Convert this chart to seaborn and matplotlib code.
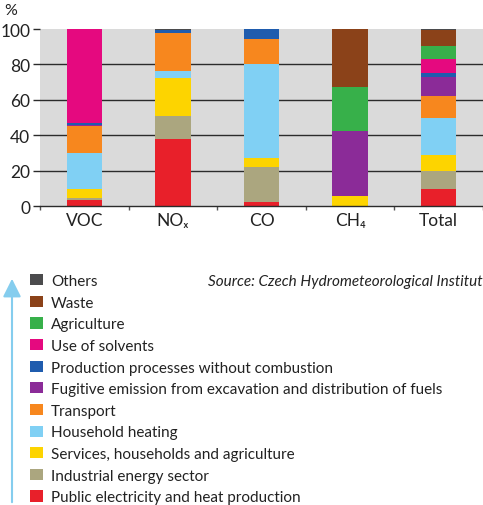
import matplotlib
matplotlib.use("Agg")
import matplotlib.pyplot as plt
from matplotlib.patches import Patch, FancyArrowPatch
import seaborn as sns
import numpy as np

# ---- data (percent shares) ----
categories = ["VOC", "NOₓ", "CO", "CH₄", "Total"]

sectors = [
    "Public electricity and heat production",
    "Industrial energy sector",
    "Services, households and agriculture",
    "Household heating",
    "Transport",
    "Fugitive emission from excavation and distribution of fuels",
    "Production processes without combustion",
    "Use of solvents",
    "Agriculture",
    "Waste",
    "Others",
]

public_electricity = [3.8, 38.0, 2.3, 0.0, 10.0]
industrial_energy = [1.0, 12.8, 19.7, 0.0, 10.1]
services = [5.0, 21.4, 5.1, 5.6, 8.9]
household_heating = [20.1, 4.3, 52.9, 0.0, 20.6]
transport = [15.2, 21.2, 14.6, 0.0, 12.8]
fugitive = [1.0, 0.0, 0.0, 37.1, 10.7]
production = [1.1, 1.5, 5.3, 0.0, 1.9]
solvents = [52.8, 0.0, 0.0, 0.0, 8.1]
agriculture = [0.0, 0.0, 0.0, 24.8, 7.3]
waste = [0.0, 0.0, 0.0, 32.5, 9.0]
others = [0.0, 0.8, 0.1, 0.0, 0.6]

colors = [
    "#e8202a", "#aba67f", "#fdd400", "#80d0f4", "#f7871e", "#8b2b98",
    "#1f5cae", "#e5097f", "#37b04a", "#8b4219", "#4b4b4d",
]

layers = [public_electricity, industrial_energy, services, household_heating,
          transport, fugitive, production, solvents, agriculture, waste, others]

sns.set_theme(style="white")
plt.rcParams['font.family'] = ['Lato', 'DejaVu Sans']

W, H = 483, 506
fig = plt.figure(figsize=(W / 100, H / 100), dpi=100)
ax = fig.add_axes([40 / W, (H - 207.3) / H, (W - 40) / W, 177.3 / H])
ax.set_facecolor("#dadada")

cum = np.cumsum(np.array(layers), axis=0)
for i in reversed(range(len(layers))):
    sns.barplot(x=categories, y=cum[i], color=colors[i], width=0.4,
                saturation=1, linewidth=0, errorbar=None, ax=ax)

ax.set_xlim(-0.5, 4.422)
ax.set_ylim(0, 100)
ax.set_yticks(range(0, 101, 20))
ax.set_xlabel("")
ax.set_ylabel("")
ax.yaxis.grid(True, color="#2b2b2b", lw=1)
ax.xaxis.grid(False)
ax.set_axisbelow(True)
for s in ["left", "right", "top"]:
    ax.spines[s].set_visible(False)
ax.spines["bottom"].set_color("#2b2b2b")
ax.spines["bottom"].set_linewidth(1)
gl = ax.yaxis.get_gridlines()
gl[-1].set_visible(False)
gl[0].set_visible(False)

ax.tick_params(axis="y", length=5, width=1, color="#2b2b2b", pad=2,
               labelsize=12.5, labelcolor="#222222", left=True)
ax.tick_params(axis="x", which="major", length=0, pad=4, labelsize=12.5,
               labelcolor="#222222")
ax.set_xticks(np.arange(-0.5, 5, 1), minor=True)
ax.tick_params(axis="x", which="minor", length=3, width=1, color="#555555",
               bottom=True)

fig.text(4 / W, 1 - 11 / H, "%", fontsize=11.5, color="#222222", va="center")

handles = [Patch(facecolor=c, edgecolor="none") for c in colors[::-1]]
fig.legend(handles=handles, labels=sectors[::-1], loc="upper left",
           bbox_to_anchor=(30 / W, 1 - 275 / H), frameon=False, borderpad=0,
           borderaxespad=0, handlelength=0.85, handleheight=0.75,
           handletextpad=0.52, labelspacing=0.5, fontsize=11,
           labelcolor="#222222")

fig.text(208 / W, 1 - 282 / H, "Source: Czech Hydrometeorological Institute",
         style="italic", fontsize=11, color="#222222", va="center")

arrow = FancyArrowPatch((12 / W, 0), (12 / W, 1 - 277 / H),
                        transform=fig.transFigure,
                        arrowstyle="-|>,head_length=11,head_width=5.5",
                        color="#85cdee", lw=1.5, mutation_scale=1)
fig.add_artist(arrow)

fig.savefig("out.png", dpi=100)
